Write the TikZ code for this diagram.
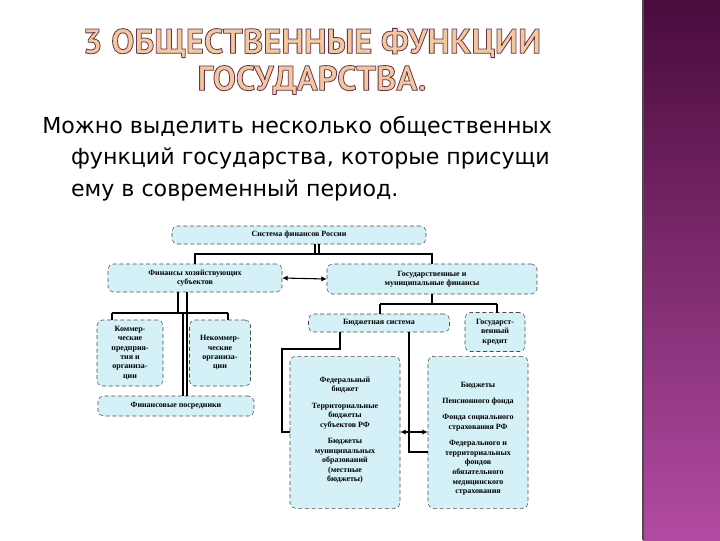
\documentclass[tikz,border=0pt]{standalone}
\usepackage{fontspec}
\setmainfont{DejaVu Sans}
\newfontfamily\titlefont{PT Sans}
\newfontfamily\boxfont{Liberation Serif}
\usetikzlibrary{arrows.meta}
\definecolor{boxfill}{HTML}{D3F1F7}
\definecolor{bandtop}{HTML}{4A0B3C}
\definecolor{bandbot}{HTML}{B24BA2}
\definecolor{titlefill}{HTML}{F3C89C}
\newcommand{\outl}[1]{{\color{titlefill}\special{pdf:literal direct 2 Tr 0.6 w 0.4 0.2 0.3 RG}#1\special{pdf:literal direct 0 Tr}}}
\begin{document}
\begin{tikzpicture}[x=0.75pt,y=-0.75pt,
  bx/.style={draw=black!70,densely dashed,thin,fill=boxfill,rounded corners=4pt,align=center,inner sep=1pt,font=\boxfont\bfseries\fontsize{6}{7}\selectfont},
  ln/.style={line width=1pt},
  dbl/.style={line width=0.8pt,{Latex[length=4pt,width=4pt]}-{Latex[length=4pt,width=4pt]}}]
\useasboundingbox (0,0) rectangle (720,540);
\fill[white] (0,0) rectangle (720,540);
\shade[top color=bandtop,bottom color=bandbot] (643,0) rectangle (720,540);
\draw[black!70,line width=1pt] (643,0) -- (643,540);
\node (t1) at (312,43) {\titlefont\bfseries\fontsize{26}{30}\selectfont\outl{3 ОБЩЕСТВЕННЫЕ ФУНКЦИИ}};
\node (t2) at (312,80) {\titlefont\bfseries\fontsize{26}{30}\selectfont\outl{ГОСУДАРСТВА.}};
\node[anchor=north west,align=left,inner sep=0pt,font=\fontsize{16.6}{23.5}\selectfont] (body) at (42,116)
 {Можно выделить несколько общественных\\\hspace*{1.3em}функций государства, которые присущи\\\hspace*{1.3em}ему в современный период.};
% boxes
\node[bx,minimum width=254*0.75pt,minimum height=18*0.75pt] (sys) at (299,235) {Система финансов России};
\node[bx,minimum width=174*0.75pt,minimum height=28*0.75pt] (hoz) at (195,278) {Финансы хозяйствующих\\субъектов};
\node[bx,minimum width=210*0.75pt,minimum height=30*0.75pt] (gos) at (432,279) {Государственные и\\муниципальные финансы};
\node[bx,minimum width=66*0.75pt,minimum height=66*0.75pt] (kom) at (130,353) {Коммер-\\ческие\\предприя-\\тия и\\организа-\\ции};
\node[bx,minimum width=61*0.75pt,minimum height=66*0.75pt] (nek) at (220,353) {Некоммер-\\ческие\\организа-\\ции};
\node[bx,minimum width=156*0.75pt,minimum height=20*0.75pt] (pos) at (176,406) {Финансовые посредники};
\node[bx,minimum width=141*0.75pt,minimum height=18*0.75pt] (bud) at (379,323) {Бюджетная система};
\node[bx,minimum width=60*0.75pt,minimum height=39*0.75pt] (kred) at (495,332) {Государст-\\венный\\кредит};
\node[bx,minimum width=110*0.75pt,minimum height=152*0.75pt,anchor=north] (lb) at (345,356) {};
\node[bx,minimum width=100*0.75pt,minimum height=152*0.75pt,anchor=north] (rb) at (478,356) {};
\node[align=center,font=\boxfont\bfseries\fontsize{6}{7.2}\selectfont,anchor=north] (lbt) at (lb.north) [yshift=-12pt]
 {Федеральный\\бюджет\\[5pt]Территориальные\\бюджеты\\субъектов РФ\\[5pt]Бюджеты\\муниципальных\\образований\\(местные\\бюджеты)};
\node[align=center,font=\boxfont\bfseries\fontsize{6}{7.2}\selectfont,anchor=north] (rbt) at (rb.north) [yshift=-16pt]
 {Бюджеты\\[5pt]Пенсионного фонда\\[5pt]Фонда социального\\страхования РФ\\[5pt]Федерального и\\территориальных\\фондов\\обязательного\\медицинского\\страхования};
% connectors
\coordinate (j1) at (317,254);
\draw[ln] ([xshift=-1.5]sys.south -| j1) -- ++(0,10);
\draw[ln] ([xshift=1.5]sys.south -| j1) -- ++(0,10) ;
\draw[ln] (j1) -- (j1 -| hoz.north) -- (hoz.north);
\draw[ln] (j1) -- (j1 -| gos.north) -- (gos.north);
\draw[dbl] (hoz.east) -- (gos.west);
\draw[ln] (178,292) -- (178,313);
\draw[ln] (187,292) -- (187,396);
\draw[ln] (112,313) -- (228,313);
\draw[ln] (112,313) -- (112,320);
\draw[ln] (228,313) -- (228,320);
\draw[ln] (183,313) -- (183,396);
\draw[ln] (gos.south) -- (432,304);
\draw[ln] (380,304) -- (497,304);
\draw[ln] (380,304) -- (380,314);
\draw[ln] (497,304) -- (497,313);
\draw[ln] (340,332) -- (340,349) -- (282,349) -- (282,432) -- (lb.west |- 0,432);
\draw[ln] (409,332) -- (409,452) -- (rb.west |- 0,452);
\draw[dbl] (lb.east |- 0,432) -- (rb.west |- 0,432);
\end{tikzpicture}
\end{document}
